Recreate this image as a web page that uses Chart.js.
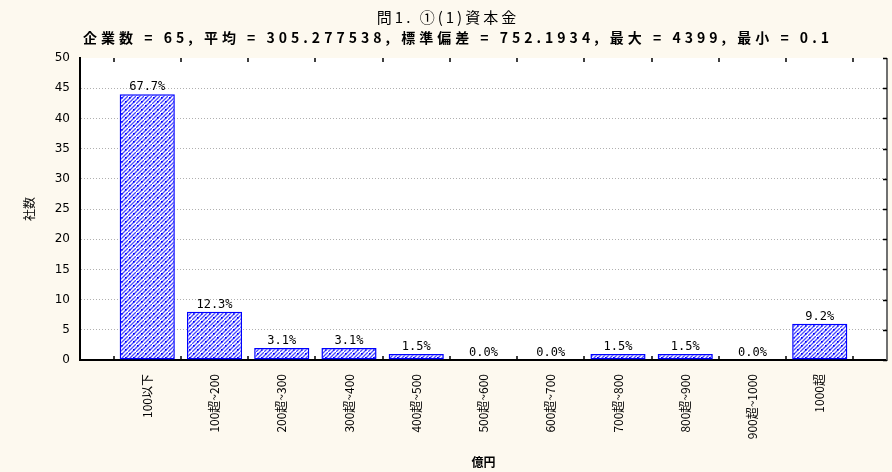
<!DOCTYPE html>
<html>
<head>
<meta charset="utf-8">
<script src="https://cdn.jsdelivr.net/npm/chart.js@4"></script>
<style>
  html, body { margin: 0; padding: 0; background: #fdf9ef; }
  #wrap { width: 892px; height: 472px; }
</style>
</head>
<body>
<div id="wrap"><canvas id="capChart" width="892" height="472"></canvas></div>
<script>
// 問1 ①(1) 資本金 — company counts by capital band
const categories = ['100以下', '100超~200', '200超~300', '300超~400', '400超~500', '500超~600',
  '600超~700', '700超~800', '800超~900', '900超~1000', '1000超'];
const counts = [44, 8, 2, 2, 1, 0, 0, 1, 1, 0, 6];
const pctLabels = ['67.7%', '12.3%', '3.1%', '3.1%', '1.5%', '0.0%', '0.0%', '1.5%', '1.5%', '0.0%', '9.2%'];
const yTicks = [0, 5, 10, 15, 20, 25, 30, 35, 40, 45, 50];

const titleText = '問1. ①(1)資本金';
const subtitleText = '企業数 = 65, 平均 = 305.277538, 標準偏差 = 752.1934, 最大 = 4399, 最小 = 0.1';

// hatch + dot fill like the old stats package
function makePattern() {
  const c = document.createElement('canvas');
  c.width = 8; c.height = 8;
  const g = c.getContext('2d');
  g.fillStyle = '#ffffff';
  g.fillRect(0, 0, 8, 8);
  g.strokeStyle = '#4a4aff';
  g.lineWidth = 1.3;
  g.beginPath();
  g.moveTo(-2, 10); g.lineTo(10, -2);
  g.moveTo(-2, 6); g.lineTo(6, -2);
  g.moveTo(2, 10); g.lineTo(10, 2);
  g.stroke();
  g.fillStyle = '#0000ff';
  g.fillRect(1, 1, 1.6, 1.6);
  g.fillRect(5, 5, 1.6, 1.6);
  return g.createPattern(c, 'repeat');
}

const frame = {
  id: 'frame',
  beforeDraw(chart) {
    const { ctx, chartArea: a } = chart;
    ctx.save();
    ctx.fillStyle = '#fdf9ef';
    ctx.fillRect(0, 0, chart.width, chart.height);
    ctx.fillStyle = '#ffffff';
    ctx.fillRect(a.left, a.top, a.right - a.left, a.bottom - a.top);
    ctx.restore();
  },
  afterDraw(chart) {
    const { ctx, chartArea: a, scales } = chart;
    const x = scales.x, y = scales.y;
    ctx.save();
    // right border
    ctx.strokeStyle = '#707070';
    ctx.lineWidth = 2;
    ctx.beginPath();
    ctx.moveTo(a.right, a.top); ctx.lineTo(a.right, a.bottom + 1);
    ctx.stroke();
    // category boundary marks top & bottom
    ctx.strokeStyle = '#000';
    ctx.lineWidth = 1.5;
    ctx.beginPath();
    for (let i = 0; i <= categories.length; i++) {
      const px = Math.round(x.getPixelForValue(i - 0.5));
      ctx.moveTo(px, a.bottom); ctx.lineTo(px, a.bottom - 4);
      ctx.moveTo(px, a.top); ctx.lineTo(px, a.top + 4);
    }
    // right side y ticks
    yTicks.forEach(v => {
      const py = Math.round(y.getPixelForValue(v)) + 0.5;
      ctx.moveTo(a.right, py); ctx.lineTo(a.right - 4, py);
    });
    ctx.stroke();
    // percentage labels
    ctx.fillStyle = '#000';
    ctx.font = '12px "DejaVu Sans Mono"';
    ctx.textAlign = 'center';
    ctx.textBaseline = 'bottom';
    const meta = chart.getDatasetMeta(0);
    meta.data.forEach((bar, i) => {
      ctx.fillText(pctLabels[i], bar.x, bar.y - 1);
    });
    // title block (wide-spaced like the original bitmap font)
    ctx.textBaseline = 'middle';
    ctx.letterSpacing = '3px';
    ctx.font = '15px "Noto Sans CJK JP"';
    ctx.fillText(titleText, 448, 17);
    ctx.letterSpacing = '4px';
    ctx.font = 'bold 14px "Noto Sans CJK JP"';
    ctx.fillText(subtitleText, 458, 38);
    ctx.letterSpacing = '0px';
    ctx.restore();
  }
};

new Chart(document.getElementById('capChart'), {
  type: 'bar',
  data: {
    datasets: [{
      data: counts.map((v, i) => ({ x: i, y: v })),
      backgroundColor: makePattern(),
      borderColor: '#0000ff',
      borderWidth: 1.5,
      borderSkipped: false,
      barPercentage: 0.82,
      categoryPercentage: 1,
    }]
  },
  options: {
    responsive: false,
    animation: false,
    devicePixelRatio: 1,
    layout: { padding: { top: 58, left: 0, right: 5, bottom: 2 } },
    plugins: {
      legend: { display: false },
      tooltip: { enabled: false },
      title: { display: false },
      subtitle: { display: false }
    },
    scales: {
      x: {
        type: 'linear',
        offset: false,
        min: -1, max: 11,
        afterBuildTicks(s) { s.ticks = categories.map((_, i) => ({ value: i })); },
        grid: { display: false },
        border: { display: true, color: '#000', width: 2 },
        ticks: {
          color: '#000', minRotation: 90, maxRotation: 90, autoSkip: false, padding: 6,
          font: { family: '"Noto Sans CJK JP"', size: 12 },
          callback: (v) => categories[v]
        },
        title: {
          display: true, text: '億円', color: '#000',
          font: { family: '"Noto Sans CJK JP"', size: 12, weight: 'bold' },
          padding: { top: 0, bottom: 0 }
        },
        afterFit(s) { s.height = 110; }
      },
      y: {
        min: 0, max: 50,
        afterBuildTicks(s) { s.ticks = yTicks.map(v => ({ value: v })); },
        grid: {
          color: (c) => (c.tick && (c.tick.value === 50 || c.tick.value === 0)) ? 'rgba(0,0,0,0)' : '#b0b0b0',
          lineWidth: 1, drawTicks: false
        },
        border: { display: true, color: '#000', width: 2, dash: [1, 2] },
        ticks: {
          color: '#000', padding: 10,
          font: { family: '"DejaVu Sans"', size: 12 }
        },
        title: {
          display: true, text: '社数', color: '#000',
          font: { family: '"Noto Sans CJK JP"', size: 12 },
          padding: { top: 22, bottom: 0 }
        },
        afterFit(s) { s.width = 80; }
      }
    }
  },
  plugins: [frame]
});
</script>
</body>
</html>
